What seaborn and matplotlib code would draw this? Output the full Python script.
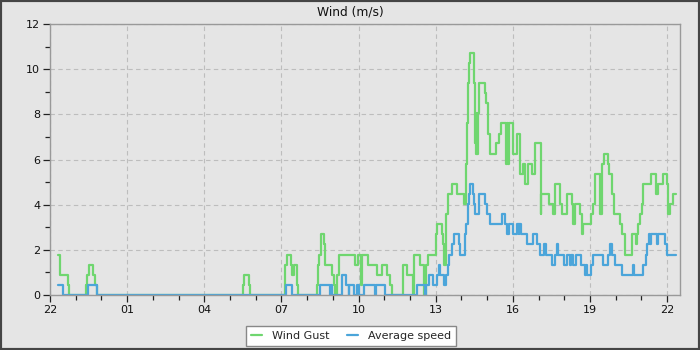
import matplotlib
matplotlib.use("Agg")
import matplotlib.pyplot as plt
import seaborn as sns
import pandas as pd
from matplotlib.lines import Line2D
from matplotlib.patches import Rectangle
from matplotlib.ticker import MultipleLocator, FixedLocator

# x positions are hours since 22:00 of the first day
tick_hours = [0, 3, 6, 9, 12, 15, 18, 21, 24]
tick_labels = ["22", "01", "04", "07", "10", "13", "16", "19", "22"]

gust_t = [0.32, 0.39, 0.71, 0.75, 1.40, 1.44, 1.50, 1.66, 1.76, 1.84,
          7.50, 7.54, 7.72, 7.78, 9.14, 9.20, 9.36, 9.42, 9.49, 9.59, 9.65,
          10.37, 10.42, 10.47, 10.52, 10.55, 10.66, 10.68, 10.95, 11.03, 11.08,
          11.15, 11.22, 11.25, 11.85, 11.96, 12.08, 12.13, 12.36, 12.70, 12.91,
          13.09, 13.24, 13.29, 13.71, 13.89, 14.10, 14.15, 14.38, 14.54, 14.61,
          14.69, 15.00, 15.05, 15.23, 15.29, 15.34, 15.41, 15.49, 15.62, 15.82,
          16.11, 16.16, 16.21, 16.24, 16.29, 16.34, 16.50, 16.52, 16.56, 16.60,
          16.62, 16.65, 16.70, 16.91, 16.96, 17.02, 17.12, 17.35, 17.48, 17.53,
          17.72, 17.77, 17.80, 17.84, 18.00, 18.16, 18.28, 18.39, 18.49, 18.57,
          18.75, 18.88, 19.09, 19.11, 19.39, 19.56, 19.64, 19.85, 19.93, 20.11,
          20.29, 20.32, 20.42, 20.62, 20.70, 20.73, 21.04, 21.12, 21.19, 21.38,
          21.45, 21.48, 21.53, 21.69, 21.74, 21.84, 21.94, 22.15, 22.23, 22.38,
          22.62, 22.77, 22.82, 22.88, 22.93, 23.03, 23.08, 23.39, 23.57, 23.65,
          23.83, 24.01, 24.04, 24.12, 24.22, 24.35]
gust_v = [1.79, 0.89, 0.45, 0.00, 0.45, 0.89, 1.34, 0.89, 0.45, 0.00,
          0.45, 0.89, 0.45, 0.00, 1.34, 1.79, 1.34, 0.89, 1.34, 0.45, 0.00,
          0.45, 1.34, 1.79, 2.24, 2.68, 2.24, 1.34, 0.89, 0.45, 0.00,
          0.89, 1.34, 1.79, 1.34, 1.79, 0.45, 1.79, 1.34, 0.89, 1.34,
          0.89, 0.45, 0.00, 1.34, 0.89, 0.00, 1.79, 1.34, 0.00, 1.34,
          1.79, 2.68, 3.13, 2.68, 2.24, 1.34, 3.58, 4.47, 4.92, 4.47,
          4.02, 5.81, 7.60, 9.39, 10.28, 10.73, 9.39, 6.71, 6.26, 8.05,
          6.26, 8.05, 9.39, 8.94, 8.49, 7.15, 6.26, 6.71, 7.15, 7.60,
          5.81, 7.60, 5.81, 7.60, 6.26, 7.15, 5.36, 5.81, 4.92, 5.81,
          5.36, 6.71, 3.58, 4.47, 4.02, 3.58, 4.92, 4.02, 3.58, 4.47,
          4.02, 3.13, 4.02, 3.58, 2.68, 3.13, 3.58, 4.02, 5.36, 3.58,
          4.47, 5.81, 6.26, 5.81, 5.36, 4.47, 3.58, 3.13, 2.68, 1.79,
          2.68, 2.24, 2.68, 3.13, 3.58, 4.02, 4.92, 5.36, 4.47, 4.92,
          5.36, 4.92, 3.58, 4.02, 4.47, 4.47]

avg_t = [0.32, 0.50, 1.49, 1.81, 9.18, 9.43, 10.50, 10.88, 10.91, 10.97,
         11.35, 11.53, 11.61, 11.64, 11.84, 11.92, 12.03, 12.23, 12.64, 12.67,
         13.01, 14.29, 14.59, 14.64, 14.72, 14.90, 15.05, 15.12, 15.18, 15.33,
         15.41, 15.47, 15.52, 15.64, 15.70, 15.91, 15.96, 16.14, 16.19, 16.24,
         16.29, 16.32, 16.45, 16.48, 16.52, 16.68, 16.91, 17.01, 17.12, 17.56,
         17.69, 17.77, 17.84, 18.00, 18.16, 18.22, 18.25, 18.31, 18.55, 18.78,
         18.94, 19.06, 19.22, 19.30, 19.53, 19.64, 19.71, 19.77, 19.97, 20.10,
         20.23, 20.28, 20.33, 20.44, 20.65, 20.81, 20.86, 20.88, 21.04, 21.12,
         21.50, 21.71, 21.76, 21.87, 21.97, 22.25, 22.69, 22.72, 23.08, 23.16,
         23.21, 23.29, 23.33, 23.37, 23.60, 23.65, 23.91, 24.01, 24.35]
avg_v = [0.45, 0.00, 0.45, 0.00, 0.45, 0.00, 0.45, 0.00, 0.45, 0.00,
         0.89, 0.45, 0.00, 0.45, 0.00, 0.45, 0.00, 0.45, 0.00, 0.45,
         0.00, 0.45, 0.00, 0.45, 0.89, 0.45, 0.89, 1.34, 0.89, 0.45,
         0.89, 1.34, 1.79, 2.24, 2.68, 2.24, 1.79, 2.68, 3.13, 4.02,
         4.47, 4.92, 4.47, 4.02, 3.58, 4.47, 4.02, 3.58, 3.13, 3.58,
         3.13, 2.68, 3.13, 2.68, 3.13, 2.68, 3.13, 2.68, 2.24, 2.68,
         2.24, 1.79, 2.24, 1.79, 1.34, 1.79, 2.24, 1.79, 1.34, 1.79,
         1.34, 1.79, 1.34, 1.79, 1.34, 0.89, 1.34, 0.89, 1.34, 1.79,
         1.34, 1.79, 2.24, 1.79, 1.34, 0.89, 1.34, 0.89, 1.34, 1.79,
         2.24, 2.68, 2.24, 2.68, 2.24, 2.68, 2.24, 1.79, 1.79]

series_names = ["Wind Gust", "Average speed"]
series_colors = ["#6fd66f", "#4ba5da"]

df = pd.concat([
    pd.DataFrame({"t": gust_t, "v": gust_v, "series": series_names[0]}),
    pd.DataFrame({"t": avg_t, "v": avg_v, "series": series_names[1]}),
], ignore_index=True)

sns.set_style("ticks")
bg = "#e5e5e5"
fig = plt.figure(figsize=(7, 3.5), dpi=100, facecolor=bg)
ax = fig.add_axes([50 / 700, 1 - 295 / 350, 630 / 700, 271 / 350])
ax.set_facecolor(bg)

sns.lineplot(data=df, x="t", y="v", hue="series", hue_order=series_names,
             palette=series_colors, estimator=None, sort=False,
             drawstyle="steps-post", linewidth=1.6, legend=False, ax=ax)

ax.set_xlim(0, 24.5)
ax.set_ylim(0, 12)
ax.xaxis.set_major_locator(FixedLocator(tick_hours))
ax.set_xticklabels(tick_labels)
ax.xaxis.set_minor_locator(MultipleLocator(1))
ax.yaxis.set_major_locator(MultipleLocator(2))
ax.yaxis.set_minor_locator(MultipleLocator(1))
ax.set_xlabel("")
ax.set_ylabel("")
ax.tick_params(which="major", direction="out", length=5, width=0.9,
               color="#222222", labelsize=8, labelcolor="#111111", pad=2)
ax.tick_params(which="minor", direction="out", length=3.5, width=0.9,
               color="#222222")
ax.grid(True, which="major", linestyle=(0, (4, 3)), color="#bdbdbd",
        linewidth=0.8)
ax.set_axisbelow(True)
for s in ax.spines.values():
    s.set_visible(True)
    s.set_color("#999999")
    s.set_linewidth(1.0)

fig.text(0.5, 1 - 12 / 350, "Wind (m/s)", ha="center", va="center",
         fontsize=8.8, color="#111111")

handles = [Line2D([], [], color=c, linewidth=1.6) for c in series_colors]
leg = fig.legend(handles, series_names, loc="center",
                 bbox_to_anchor=(351 / 700, 1 - 336 / 350), ncol=2,
                 fontsize=8, handlelength=1.0, handletextpad=0.9,
                 columnspacing=1.6, fancybox=False, framealpha=1,
                 edgecolor="#888888", borderpad=0.45)
leg.get_frame().set_facecolor("white")
leg.get_frame().set_linewidth(1.0)

fig.patches.append(Rectangle((0, 0), 1, 1, transform=fig.transFigure,
                             fill=False, edgecolor="#454545", linewidth=3))

fig.savefig("out.png", dpi=100, facecolor=bg)
